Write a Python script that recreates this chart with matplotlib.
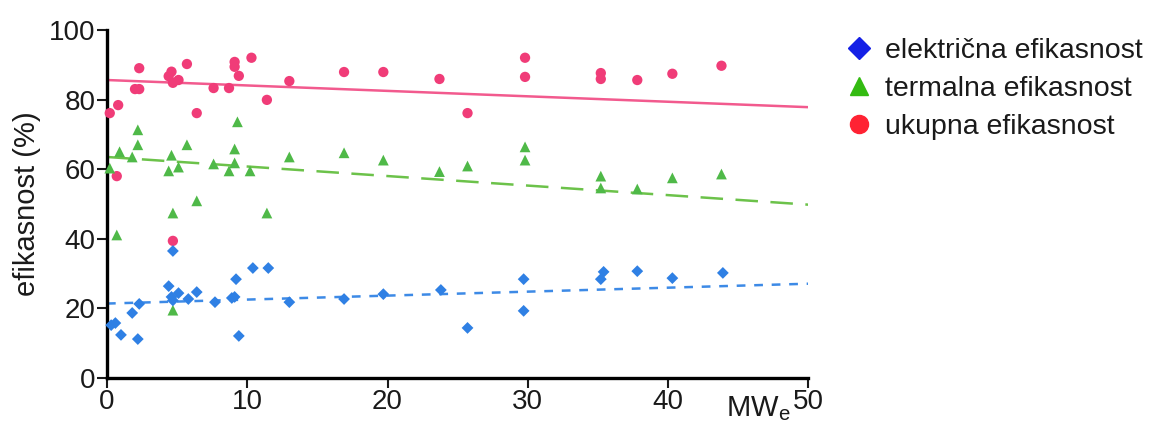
import numpy as np
import matplotlib.pyplot as plt
from matplotlib.lines import Line2D

plt.rcParams['font.family'] = ['Liberation Sans', 'DejaVu Sans']

# ukupna efikasnost (red dots)
uk_x = [0.2, 0.8, 0.7, 2.0, 2.3, 2.3, 4.4, 4.6, 4.7, 5.1, 5.7, 6.4, 7.6, 8.7, 9.1, 9.1, 9.4,
        10.3, 11.4, 13.0, 16.9, 19.7, 23.7, 25.7, 29.8, 29.8, 35.2, 35.2, 37.8, 40.3, 43.8, 4.7]
uk_y = [76.1, 78.4, 58.0, 83.0, 83.0, 89.0, 86.7, 88.0, 84.8, 85.6, 90.2, 76.1, 83.3, 83.3, 90.8, 89.4, 86.8,
        92.0, 79.9, 85.3, 87.9, 87.9, 85.9, 76.1, 92.0, 86.5, 87.6, 85.9, 85.6, 87.4, 89.7, 39.4]

# termalna efikasnost (green triangles)
te_x = [0.2, 0.7, 0.9, 1.8, 2.2, 2.2, 4.4, 4.6, 4.7, 4.7, 5.1, 5.7, 6.4, 7.6, 8.7, 9.1, 9.1, 9.3,
        10.2, 11.4, 13.0, 16.9, 19.7, 23.7, 25.7, 29.8, 29.8, 35.2, 35.2, 37.8, 40.3, 43.8]
te_y = [60.3, 41.1, 65.0, 63.5, 71.3, 67.0, 59.5, 64.0, 47.4, 19.5, 60.6, 67.0, 50.9, 61.5, 59.5, 65.8, 61.8, 73.6,
        59.5, 47.4, 63.5, 64.7, 62.6, 59.3, 60.9, 66.4, 62.6, 58.0, 54.6, 54.3, 57.5, 58.6]

# elektricna efikasnost (blue diamonds)
el_x = [0.3, 0.6, 1.0, 1.8, 2.2, 2.3, 4.4, 4.6, 4.7, 4.7, 5.1, 5.8, 6.4, 7.7, 8.9, 9.1, 9.2, 9.4,
        10.4, 11.5, 13.0, 16.9, 19.7, 23.8, 25.7, 29.7, 29.7, 35.2, 35.4, 37.8, 40.3, 43.9]
el_y = [15.2, 15.8, 12.4, 18.7, 11.2, 21.3, 26.4, 23.3, 36.5, 22.3, 24.4, 22.7, 24.7, 21.8, 23.0, 23.3, 28.4, 12.1,
        31.6, 31.6, 21.8, 22.7, 24.1, 25.3, 14.4, 28.4, 19.3, 28.4, 30.5, 30.7, 28.7, 30.2]

# trend lines, read at x = 0 and x = 50
trend_x = [0, 50]
uk_trend = [85.6, 77.8]
te_trend = [63.5, 49.8]
el_trend = [21.4, 27.1]

labels = ["električna efikasnost", "termalna efikasnost", "ukupna efikasnost"]

fig = plt.figure(figsize=(11.5, 4.21), dpi=100)
ax = fig.add_axes([0.093, 0.102, 0.610, 0.827])

ax.plot(trend_x, uk_trend, color='#f25a8e', lw=1.8)
ax.plot(trend_x, te_trend, color='#6cc24a', lw=1.8, dashes=(9, 5))
ax.plot(trend_x, el_trend, color='#3d8ae6', lw=1.8, dashes=(3.5, 3.5))

ax.scatter(uk_x, uk_y, marker='o', s=55, color='#f03c78', edgecolors='none', clip_on=False, zorder=3)
ax.scatter(te_x, te_y, marker='^', s=60, color='#4fb948', edgecolors='none', clip_on=False, zorder=3)
ax.scatter(el_x, el_y, marker='D', s=36, color='#2f80e4', edgecolors='none', clip_on=False, zorder=3)

ax.set_xlim(0, 50)
ax.set_ylim(0, 100)
ax.set_xticks([0, 10, 20, 30, 40, 50])
ax.set_yticks([0, 20, 40, 60, 80, 100])
for s in ['top', 'right']:
    ax.spines[s].set_visible(False)
for s in ['left', 'bottom']:
    ax.spines[s].set_linewidth(2.4)
ax.tick_params(labelsize=20, width=1.5, length=7, pad=1, colors='#1a1a1a')
ax.set_ylabel("efikasnost (%)", fontsize=21, color='#1a1a1a', labelpad=6)

ax.text(48.7, -0.045, r'MW$_\mathregular{e}$', transform=ax.get_xaxis_transform(),
        ha='right', va='top', fontsize=21, color='#1a1a1a')

handles = [Line2D([], [], ls='none', marker='D', ms=11, color='#1420e6'),
           Line2D([], [], ls='none', marker='^', ms=13, color='#33bb11'),
           Line2D([], [], ls='none', marker='o', ms=13, color='#ff2233')]
fig.legend(handles, labels, loc='upper left', bbox_to_anchor=(0.71, 0.97), frameon=False,
           fontsize=20.5, labelspacing=0.42, handletextpad=0.3, handlelength=1.2, labelcolor='#1a1a1a')

fig.savefig("out.png", dpi=100)
